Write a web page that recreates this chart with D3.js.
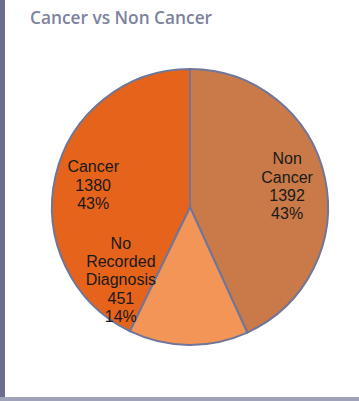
<!DOCTYPE html>
<html>
<head>
<meta charset="utf-8">
<script src="https://cdn.jsdelivr.net/npm/d3@7"></script>
<style>
  body { margin: 0; background: #fff; }
  svg { display: block; }
</style>
</head>
<body>
<script>
var width = 359, height = 401;

// data
var categories = ["Non Cancer", "No Recorded Diagnosis", "Cancer"];
var counts = [1392, 451, 1380];
var percents = ["43%", "14%", "43%"];
var colours = ["#c97a48", "#f29557", "#e5631a"];

var cx = 190, cy = 207, radius = 138;

var svg = d3.select("body").append("svg")
  .attr("width", width)
  .attr("height", height);

// frame: dark bar on the left, thin rule at the bottom
svg.append("rect").attr("x", 0).attr("y", 0).attr("width", 5).attr("height", height).attr("fill", "#6b6d90");
svg.append("rect").attr("x", 0).attr("y", height - 4).attr("width", width).attr("height", 4).attr("fill", "#9fa2b8");

svg.append("text")
  .attr("x", 30).attr("y", 24)
  .attr("style", "font-size: 17.3px; font-family: 'Open Sans', sans-serif; font-weight: 600")
  .attr("fill", "#7d829d")
  .text("Cancer vs Non Cancer");

var pie = d3.pie().sort(null).value(function(d) { return d; });
var arcs = pie(counts);

var arc = d3.arc().innerRadius(0).outerRadius(radius);
var labelArc = d3.arc().innerRadius(radius * 0.72).outerRadius(radius * 0.72);

var g = svg.append("g").attr("transform", "translate(" + cx + "," + cy + ")");

g.selectAll("path")
  .data(arcs).enter()
  .append("path")
  .attr("d", arc)
  .attr("fill", function(d, i) { return colours[i]; })
  .attr("stroke", "#6f7699")
  .attr("stroke-width", 2);

var lineH = 18.3;
var labels = g.selectAll("text.lbl")
  .data(arcs).enter()
  .append("text")
  .attr("class", "lbl")
  .attr("text-anchor", "middle")
  .attr("style", "font-size: 16px; font-family: 'Liberation Sans', Arial, sans-serif")
  .attr("fill", "#1a1a1a")
  .attr("transform", function(d, i) {
    var c = labelArc.centroid(d);
    // the thin slice's label gets pushed left, out of the way of the edge
    if (i === 1) c = [c[0] - 68, c[1] - 27];
    return "translate(" + c[0] + "," + c[1] + ")";
  });

labels.each(function(d, i) {
  var lines = categories[i].split(" ");
  if (i === 0) lines = ["Non", "Cancer"];
  lines = lines.concat([String(counts[i]), percents[i]]);
  var t = d3.select(this);
  var top = -(lines.length - 1) * lineH / 2 + 6;
  lines.forEach(function(s, j) {
    t.append("tspan").attr("x", 0).attr("y", top + j * lineH).text(s);
  });
});
</script>
</body>
</html>
